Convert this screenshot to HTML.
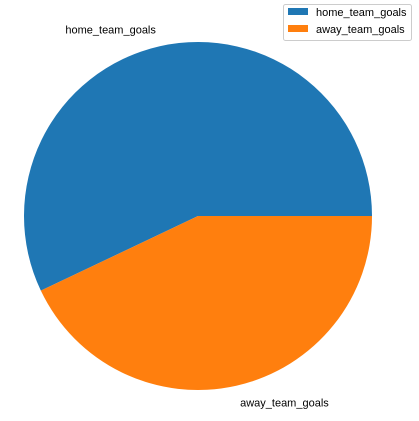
<!DOCTYPE html>
<html><head><meta charset="utf-8"><style>
html,body{margin:0;padding:0;background:#fff;}
svg{display:block;font-family:"Liberation Sans","DejaVu Sans",sans-serif;}
</style></head><body>
<svg id="chart" width="419" height="421" viewBox="0 0 419 421">
<g id="slices"></g>
<g id="labels"></g>
<g>
<rect x="283.5" y="4.5" width="128" height="36" rx="2" fill="#fff" stroke="#ccc"/>
<g id="legend-items"></g>
</g>
</svg>
<script>
const categories = ["home_team_goals", "away_team_goals"];
const values = [57.06, 42.94];
const colors = ["#1f77b4", "#ff7f0e"];

const cx = 198, cy = 216, r = 174;
const ns = "http://www.w3.org/2000/svg";
const total = values.reduce((a, b) => a + b, 0);
const slices = document.getElementById('slices');
const labels = document.getElementById('labels');
const leg = document.getElementById('legend-items');
let start = 0;
function pt(a, rad) { return [cx + rad * Math.cos(a), cy - rad * Math.sin(a)]; }
values.forEach((v, i) => {
  const sweep = v / total * 2 * Math.PI;
  const end = start + sweep;
  const [x1, y1] = pt(start, r), [x2, y2] = pt(end, r);
  const large = sweep > Math.PI ? 1 : 0;
  const p = document.createElementNS(ns, 'path');
  p.setAttribute('d', `M${cx},${cy} L${x1},${y1} A${r},${r} 0 ${large} 0 ${x2},${y2} Z`);
  p.setAttribute('fill', colors[i]);
  
  
  slices.appendChild(p);
  const mid = start + sweep / 2;
  const [lx, ly] = pt(mid, r * 1.1);
  const t = document.createElementNS(ns, 'text');
  t.setAttribute('x', lx);
  t.setAttribute('y', ly + 4);
  t.setAttribute('font-size', '11');
  t.setAttribute('text-anchor', Math.cos(mid) < 0 ? 'end' : 'start');
  t.textContent = categories[i];
  
  
  labels.appendChild(t);
  const ly2 = 8 + i * 17;
  const sw = document.createElementNS(ns, 'rect');
  sw.setAttribute('x', 288); sw.setAttribute('y', ly2); sw.setAttribute('width', 20); sw.setAttribute('height', 7);
  sw.setAttribute('fill', colors[i]);
  
  
  leg.appendChild(sw);
  const lt = document.createElementNS(ns, 'text');
  lt.setAttribute('x', 316); lt.setAttribute('y', ly2 + 8);
  lt.setAttribute('font-size', '11');
  lt.textContent = categories[i];
  
  
  leg.appendChild(lt);
  start = end;
});
</script>
</body></html>
